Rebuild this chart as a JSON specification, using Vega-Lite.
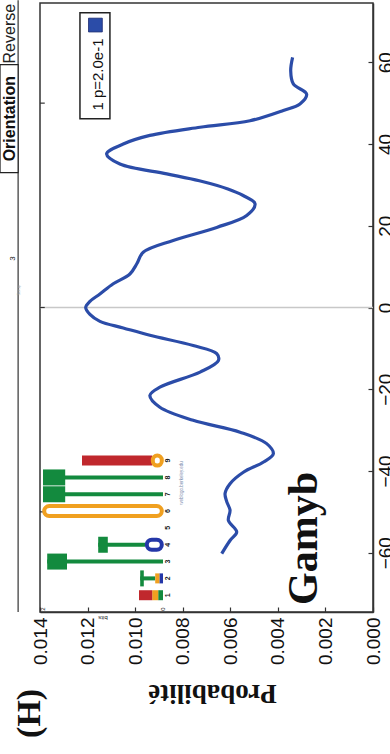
{
  "$schema": "https://vega.github.io/schema/vega-lite/v6.json",
  "width": 333,
  "height": 609,
  "autosize": {"type": "none"},
  "padding": {"left": 40, "top": 3, "right": 17, "bottom": 142},
  "background": "white",
  "config": {"view": {"stroke": "#333", "strokeWidth": 1.5}, "font": "Liberation Sans"},
  "datasets": {
    "curve": [
      {"pos": -60.2, "prob": 0.00636}, {"pos": -57.0, "prob": 0.00601}, {"pos": -54.9, "prob": 0.00573},
      {"pos": -52.1, "prob": 0.00608}, {"pos": -49.6, "prob": 0.00601}, {"pos": -47.5, "prob": 0.00615},
      {"pos": -45.5, "prob": 0.00622}, {"pos": -43.1, "prob": 0.00601}, {"pos": -40.3, "prob": 0.00545},
      {"pos": -37.8, "prob": 0.0046}, {"pos": -35.8, "prob": 0.00419}, {"pos": -33.3, "prob": 0.00447},
      {"pos": -30.5, "prob": 0.00559}, {"pos": -27.6, "prob": 0.00756}, {"pos": -24.4, "prob": 0.00896},
      {"pos": -21.5, "prob": 0.00938}, {"pos": -19.5, "prob": 0.00896}, {"pos": -15.8, "prob": 0.00727},
      {"pos": -13.0, "prob": 0.0065}, {"pos": -11.3, "prob": 0.00657}, {"pos": -9.3, "prob": 0.00756},
      {"pos": -6.8, "prob": 0.00938}, {"pos": -5.0, "prob": 0.0105}, {"pos": -3.4, "prob": 0.01148},
      {"pos": -1.7, "prob": 0.0119}, {"pos": 0.0, "prob": 0.01208}, {"pos": 1.5, "prob": 0.0119},
      {"pos": 3.3, "prob": 0.01148}, {"pos": 5.8, "prob": 0.01092}, {"pos": 8.2, "prob": 0.01022},
      {"pos": 10.7, "prob": 0.00993}, {"pos": 13.5, "prob": 0.00966}, {"pos": 16.4, "prob": 0.0084},
      {"pos": 19.6, "prob": 0.00657}, {"pos": 22.5, "prob": 0.00531}, {"pos": 25.4, "prob": 0.00496},
      {"pos": 27.4, "prob": 0.00546}, {"pos": 29.0, "prob": 0.0061}, {"pos": 31.0, "prob": 0.0073},
      {"pos": 32.7, "prob": 0.00867}, {"pos": 35.1, "prob": 0.01064}, {"pos": 37.6, "prob": 0.0112},
      {"pos": 40.0, "prob": 0.0105}, {"pos": 42.1, "prob": 0.00938}, {"pos": 44.1, "prob": 0.00727},
      {"pos": 45.7, "prob": 0.00517}, {"pos": 48.2, "prob": 0.00377}, {"pos": 49.8, "prob": 0.00307},
      {"pos": 52.2, "prob": 0.00279}, {"pos": 54.7, "prob": 0.00335}, {"pos": 57.9, "prob": 0.00346},
      {"pos": 61.2, "prob": 0.00338}
    ],
    "logo": [
      {"pos": 1, "letter": "T", "part": "solid", "b0": 0, "b1": 0.08},
      {"pos": 1, "letter": "G", "part": "solid", "b0": 0.08, "b1": 0.18},
      {"pos": 1, "letter": "A", "part": "solid", "b0": 0.18, "b1": 0.4},
      {"pos": 2, "letter": "C", "part": "solid", "b0": 0, "b1": 0.06},
      {"pos": 2, "letter": "G", "part": "solid", "b0": 0.06, "b1": 0.13},
      {"pos": 2, "letter": "T", "part": "stem", "b0": 0.13, "b1": 0.38},
      {"pos": 2, "letter": "T", "part": "block", "b0": 0.32, "b1": 0.38},
      {"pos": 3, "letter": "T", "part": "stem", "b0": 0, "b1": 1.93},
      {"pos": 3, "letter": "T", "part": "block", "b0": 1.6, "b1": 1.93},
      {"pos": 4, "letter": "C", "part": "ring", "b0": 0.02, "b1": 0.27},
      {"pos": 4, "letter": "T", "part": "stem", "b0": 0.3, "b1": 1.08},
      {"pos": 4, "letter": "T", "part": "block", "b0": 0.92, "b1": 1.08},
      {"pos": 6, "letter": "G", "part": "ring", "b0": 0.02, "b1": 1.98},
      {"pos": 7, "letter": "T", "part": "stem", "b0": 0, "b1": 2.0},
      {"pos": 7, "letter": "T", "part": "block", "b0": 1.63, "b1": 2.0},
      {"pos": 8, "letter": "T", "part": "stem", "b0": 0, "b1": 2.0},
      {"pos": 8, "letter": "T", "part": "block", "b0": 1.63, "b1": 2.0},
      {"pos": 9, "letter": "G", "part": "ring", "b0": 0.02, "b1": 0.17},
      {"pos": 9, "letter": "A", "part": "solid", "b0": 0.18, "b1": 1.35}
    ],
    "logopos": [
      {"pos": 1}, {"pos": 2}, {"pos": 3}, {"pos": 4}, {"pos": 5}, {"pos": 6}, {"pos": 7}, {"pos": 8}, {"pos": 9}
    ]
  },
  "layer": [
    {
      "layer": [
        {
          "data": {"values": [{}]},
          "mark": {"type": "rule", "color": "#c8c8c8", "strokeWidth": 1.5},
          "encoding": {"y": {"datum": 0}}
        },
        {
          "data": {"name": "curve"},
          "mark": {"type": "line", "color": "#2b4ca8", "strokeWidth": 3.2, "interpolate": "catmull-rom"},
          "encoding": {
            "x": {
              "field": "prob", "type": "quantitative",
              "scale": {"domain": [0, 0.014], "reverse": true, "nice": false, "zero": false},
              "axis": {
                "values": [0, 0.002, 0.004, 0.006, 0.008, 0.01, 0.012, 0.014],
                "format": ".3f",
                "labelAngle": 270, "labelAlign": "right", "labelBaseline": "middle",
                "labelFont": "Liberation Sans", "labelFontSize": 19, "labelColor": "#111",
                "labelPadding": 10, "labelFlush": false, "labelOverlap": false, "labelBound": false,
                "tickSize": -5, "tickColor": "#333", "tickWidth": 1.2,
                "domainColor": "#333", "domainWidth": 1.5, "grid": false,
                "title": "Probabilité", "titleFont": "Liberation Serif", "titleFontSize": 27,
                "titleFontWeight": "bold", "titleColor": "#111",
                "titleAngle": 180, "titleBaseline": "bottom", "titleAlign": "center",
                "titleX": 172, "titleY": 66
              }
            },
            "y": {
              "field": "pos", "type": "quantitative",
              "scale": {"domain": [-74.5, 74.5], "nice": false, "zero": false},
              "axis": {
                "orient": "right",
                "values": [-60, -40, -20, 0, 20, 40, 60],
                "labelAngle": 270, "labelAlign": "center", "labelBaseline": "top",
                "labelFont": "Liberation Sans", "labelFontSize": 19, "labelColor": "#111",
                "labelPadding": 8, "labelFlush": false, "labelOverlap": false, "labelBound": false,
                "tickSize": -5, "tickColor": "#333", "tickWidth": 1.2,
                "domainColor": "#333", "domainWidth": 1.5, "grid": false,
                "title": null
              }
            },
            "order": {"field": "pos", "type": "quantitative"}
          }
        },
        {
          "data": {"values": [{"pos": -50}, {"pos": 0}, {"pos": 50}]},
          "mark": {"type": "rule", "color": "#333", "strokeWidth": 1.2},
          "encoding": {
            "x": {"datum": 0.014}, "x2": {"datum": 0.0138},
            "y": {"field": "pos", "type": "quantitative"}
          }
        },
        {
          "data": {"values": [{}]},
          "mark": {"type": "rect", "fill": "white", "stroke": "#222", "strokeWidth": 1.5},
          "encoding": {
            "x": {"datum": 0.01232}, "x2": {"datum": 0.01106},
            "y": {"datum": 72.1}, "y2": {"datum": 46.2}
          }
        },
        {
          "data": {"values": [{}]},
          "mark": {"type": "point", "shape": "square", "filled": true, "fill": "#2b4ca8", "stroke": "#1a2a70", "strokeWidth": 0.8, "size": 190, "opacity": 1},
          "encoding": {"x": {"datum": 0.01167}, "y": {"datum": 69.1}}
        },
        {
          "data": {"values": [{}]},
          "mark": {"type": "text", "text": "1 p=2.0e-1", "angle": 270, "align": "center", "baseline": "alphabetic", "font": "Liberation Sans", "fontSize": 15, "color": "#111"},
          "encoding": {"x": {"datum": 0.01135}, "y": {"datum": 57.0}}
        },
        {
          "data": {"values": [{}]},
          "mark": {"type": "text", "text": "Gamyb", "angle": 270, "align": "center", "baseline": "alphabetic", "font": "Liberation Serif", "fontWeight": "bold", "fontSize": 42, "color": "#111"},
          "encoding": {"x": {"datum": 0.00235}, "y": {"datum": -56.5}}
        },
        {
          "data": {"values": [{}]},
          "mark": {"type": "text", "text": "(H)", "angle": 270, "align": "center", "baseline": "middle", "font": "Liberation Serif", "fontWeight": "bold", "fontSize": 34, "color": "#111"},
          "encoding": {"x": {"datum": 0.01442}, "y": {"datum": -99.3}}
        },
        {
          "data": {"values": [{}]},
          "mark": {"type": "rule", "color": "#333", "strokeWidth": 1.2},
          "encoding": {"x": {"datum": 0.01492}, "y": {"datum": 75.2}, "y2": {"datum": -74.5}}
        },
        {
          "data": {"values": [{}]},
          "mark": {"type": "rect", "fill": "white", "stroke": "#222", "strokeWidth": 1.2},
          "encoding": {
            "x": {"datum": 0.01568}, "x2": {"datum": 0.01492},
            "y": {"datum": 59.4}, "y2": {"datum": 33.0}
          }
        },
        {
          "data": {"values": [{}]},
          "mark": {"type": "text", "text": "Orientation", "angle": 270, "align": "center", "baseline": "alphabetic", "font": "Liberation Sans", "fontWeight": "bold", "fontSize": 16, "color": "#111"},
          "encoding": {"x": {"datum": 0.01505}, "y": {"datum": 46.2}}
        },
        {
          "data": {"values": [{}]},
          "mark": {"type": "text", "text": "Reverse", "angle": 270, "align": "center", "baseline": "alphabetic", "font": "Liberation Sans", "fontSize": 16, "color": "#222"},
          "encoding": {"x": {"datum": 0.01505}, "y": {"datum": 67.0}}
        },
        {
          "data": {"values": [{}]},
          "mark": {"type": "text", "text": "3", "angle": 270, "align": "center", "baseline": "middle", "font": "Liberation Sans", "fontSize": 8, "color": "#222"},
          "encoding": {"x": {"datum": 0.01514}, "y": {"datum": 12.0}}
        },
        {
          "data": {"values": [{}]},
          "mark": {"type": "text", "text": "Setup", "angle": 270, "align": "center", "baseline": "middle", "font": "Liberation Sans", "fontSize": 4, "color": "#999"},
          "encoding": {"x": {"datum": 0.01488}, "y": {"datum": 4.2}}
        }
      ]
    },
    {
      "layer": [
        {
          "data": {"name": "logo"},
          "transform": [{"filter": "datum.part === 'stem'"}],
          "mark": {"type": "bar", "size": 4},
          "encoding": {
            "x": {"field": "b0", "type": "quantitative", "scale": {"domain": [-3.5, 2.05], "reverse": true, "nice": false, "zero": false}, "axis": null},
            "x2": {"field": "b1"},
            "y": {"field": "pos", "type": "quantitative", "scale": {"domain": [0.3, 35.9], "nice": false, "zero": false}, "axis": null},
            "color": {"field": "letter", "type": "nominal", "scale": {"domain": ["A", "C", "G", "T"], "range": ["#c0282d", "#2437a8", "#f0a020", "#138a3e"]}, "legend": null}
          }
        },
        {
          "data": {"name": "logo"},
          "transform": [{"filter": "datum.part === 'block'"}],
          "mark": {"type": "bar", "size": 16},
          "encoding": {
            "x": {"field": "b0", "type": "quantitative"},
            "x2": {"field": "b1"},
            "y": {"field": "pos", "type": "quantitative"},
            "color": {"field": "letter", "type": "nominal", "legend": null}
          }
        },
        {
          "data": {"name": "logo"},
          "transform": [{"filter": "datum.part === 'solid'"}],
          "mark": {"type": "bar", "size": 10},
          "encoding": {
            "x": {"field": "b0", "type": "quantitative"},
            "x2": {"field": "b1"},
            "y": {"field": "pos", "type": "quantitative"},
            "color": {"field": "letter", "type": "nominal", "legend": null}
          }
        },
        {
          "data": {"name": "logo"},
          "transform": [{"filter": "datum.part === 'ring'"}],
          "mark": {"type": "bar", "size": 10, "filled": false, "strokeWidth": 4, "cornerRadius": 5},
          "encoding": {
            "x": {"field": "b0", "type": "quantitative"},
            "x2": {"field": "b1"},
            "y": {"field": "pos", "type": "quantitative"},
            "color": {"field": "letter", "type": "nominal", "legend": null}
          }
        },
        {
          "data": {"name": "logopos"},
          "mark": {"type": "text", "angle": 270, "align": "center", "baseline": "middle", "fontSize": 7, "fontWeight": "bold", "color": "#222"},
          "encoding": {
            "x": {"datum": -0.085},
            "y": {"field": "pos", "type": "quantitative"},
            "text": {"field": "pos", "type": "quantitative"}
          }
        },
        {
          "data": {"values": [{"bits": 0, "lab": "0"}, {"bits": 2, "lab": "2"}]},
          "mark": {"type": "text", "angle": 270, "align": "center", "baseline": "middle", "fontSize": 6, "color": "#222"},
          "encoding": {
            "x": {"field": "bits", "type": "quantitative"},
            "y": {"datum": 0.18},
            "text": {"field": "lab"}
          }
        },
        {
          "data": {"values": [{}]},
          "mark": {"type": "text", "text": "bits", "angle": 180, "align": "center", "baseline": "middle", "fontSize": 6, "color": "#222"},
          "encoding": {"x": {"datum": 1.0}, "y": {"datum": -0.35}}
        },
        {
          "data": {"values": [{}]},
          "mark": {"type": "text", "text": "weblogo.berkeley.edu", "angle": 270, "align": "center", "baseline": "middle", "fontSize": 4.5, "color": "#7788aa"},
          "encoding": {"x": {"datum": -0.32}, "y": {"datum": 7.67}}
        }
      ]
    }
  ],
  "resolve": {"scale": {"x": "independent", "y": "independent", "color": "independent"}, "axis": {"x": "independent", "y": "independent"}}
}
